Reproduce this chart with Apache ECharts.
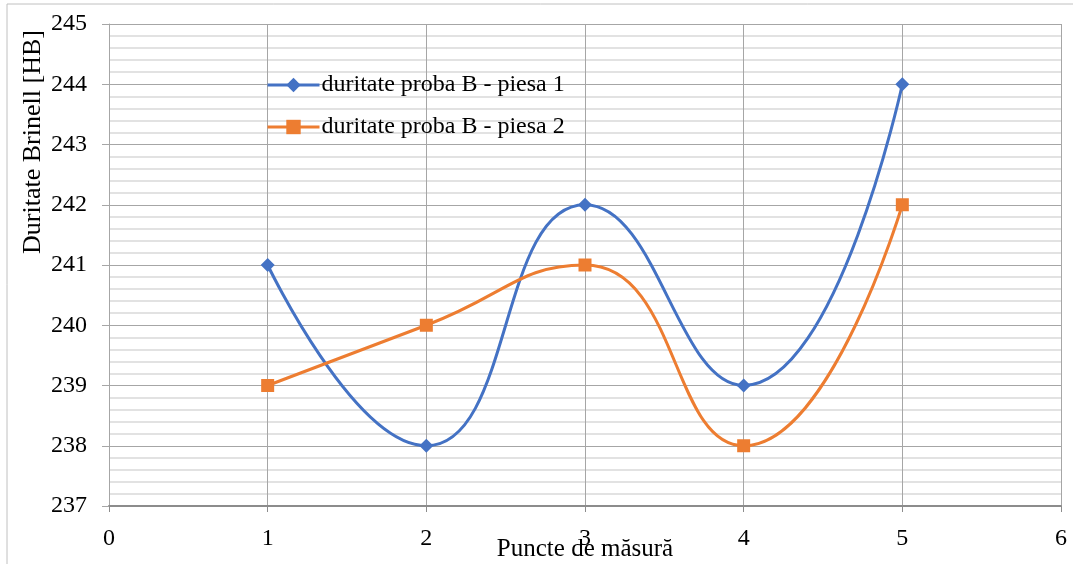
<!DOCTYPE html>
<html>
<head>
<meta charset="utf-8">
<script src="https://cdn.jsdelivr.net/npm/echarts@6/dist/echarts.min.js"></script>
<style>
  html, body { margin: 0; padding: 0; background: #fff; }
  #chart { width: 1073px; height: 564px; }
</style>
</head>
<body>
<div id="chart"></div>
<script>
// Measuring points and Brinell hardness readings
const puncte = [1, 2, 3, 4, 5];
const piesa1 = [241, 238, 242, 239, 244];
const piesa2 = [239, 240, 241, 238, 242];
const seriesNames = ['duritate proba B - piesa 1', 'duritate proba B - piesa 2'];
const xTitle = 'Puncte de măsură';
const yTitle = 'Duritate Brinell [HB]';

const FONT = 'Liberation Serif';

const chart = echarts.init(document.getElementById('chart'));

chart.setOption({
  animation: false,
  backgroundColor: '#fff',
  textStyle: { fontFamily: FONT, color: '#000' },
  graphic: [
    {
      type: 'rect',
      shape: { x: 7, y: 4, width: 1100, height: 600 },
      style: { fill: 'none', stroke: '#c0c0c0', lineWidth: 1 },
      silent: true
    },
    {
      // vertical axis title, sitting in the upper half of the axis
      type: 'text',
      x: 33,
      y: 142,
      rotation: Math.PI / 2,
      style: {
        text: yTitle,
        font: '26px "Liberation Serif"',
        fill: '#000',
        align: 'center',
        verticalAlign: 'middle'
      },
      silent: true
    },
    {
      type: 'text',
      x: 585,
      y: 549,
      style: {
        text: xTitle,
        font: '25px "Liberation Serif"',
        fill: '#000',
        align: 'center',
        verticalAlign: 'middle'
      },
      silent: true
    }
  ],
  grid: { left: 109, top: 24, width: 952, height: 482, containLabel: false, outerBoundsMode: 'none' },
  legend: {
    orient: 'vertical',
    left: 261,
    top: 68,
    itemWidth: 52,
    itemHeight: 18,
    itemGap: 18,
    lineStyle: { width: 3 },
    textStyle: { fontFamily: FONT, fontSize: 24, color: '#000', padding: [0, 0, 0, -3] },
    data: seriesNames
  },
  xAxis: {
    type: 'value',
    min: 0,
    max: 6,
    interval: 1,
    axisLine: { show: true, lineStyle: { color: '#8c8c8c', width: 2 } },
    axisTick: { show: true, length: 6, lineStyle: { color: '#8c8c8c' } },
    axisLabel: { fontFamily: FONT, fontSize: 24, color: '#000', margin: 21 },
    splitLine: { show: true, lineStyle: { color: '#a6a6a6', width: 1 } }
  },
  yAxis: {
    type: 'value',
    min: 237,
    max: 245,
    interval: 1,
    axisLine: { show: true, lineStyle: { color: '#a6a6a6', width: 1 } },
    axisTick: { show: true, length: 7, lineStyle: { color: '#a6a6a6' } },
    axisLabel: { fontFamily: FONT, fontSize: 24, color: '#000', margin: 22 },
    splitLine: { show: true, lineStyle: { color: '#a6a6a6', width: 1 } },
    minorTick: { show: false, splitNumber: 5 },
    minorSplitLine: { show: true, lineStyle: { color: '#d9d9d9', width: 1.5 } }
  },
  series: [
    {
      name: seriesNames[0],
      type: 'line',
      smooth: 0.5,
      data: puncte.map((x, i) => [x, piesa1[i]]),
      symbol: 'diamond',
      symbolSize: 14,
      lineStyle: { color: '#4472C4', width: 3 },
      itemStyle: { color: '#4472C4' }
    },
    {
      name: seriesNames[1],
      type: 'line',
      smooth: 0.5,
      data: puncte.map((x, i) => [x, piesa2[i]]),
      symbol: 'rect',
      symbolSize: 13,
      lineStyle: { color: '#ED7D31', width: 3 },
      itemStyle: { color: '#ED7D31' }
    }
  ]
});
</script>
</body>
</html>
